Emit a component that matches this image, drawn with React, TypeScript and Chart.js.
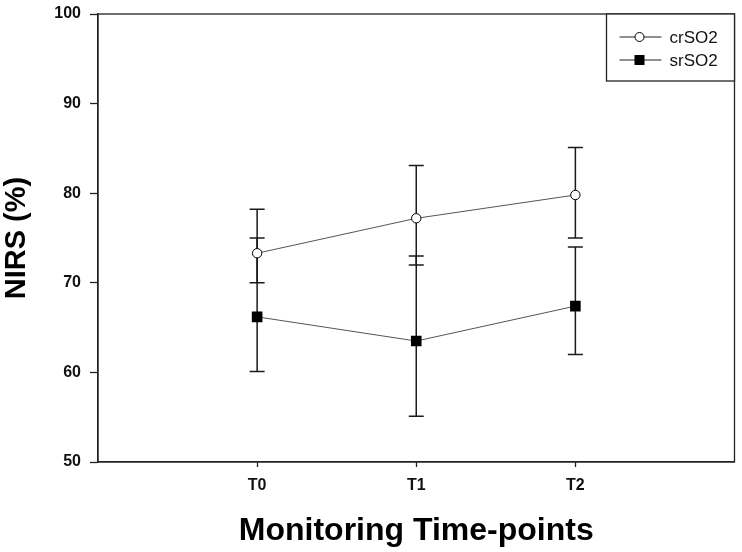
import React, { useEffect, useRef } from "react";
import { Chart, registerables } from "chart.js";

Chart.register(...registerables);

const categories = ["T0", "T1", "T2"];
const crSO2 = [73.3, 77.2, 79.8];
const crUpper = [78.2, 83.1, 85.1];
const crLower = [70.0, 72.0, 75.0];
const srSO2 = [66.2, 63.5, 67.4];
const srUpper = [75.0, 73.0, 74.0];
const srLower = [60.1, 55.1, 62.0];
const yTicks = [50, 60, 70, 80, 90, 100];

const FONT = "'Liberation Sans', Arial, sans-serif";

const errorBarPlugin = {
  id: "errorBars",
  beforeDatasetsDraw(chart: any) {
    const { ctx, scales } = chart;
    const xs = scales.x;
    const ys = scales.y;
    const sets = [
      { up: crUpper, lo: crLower },
      { up: srUpper, lo: srLower },
    ];
    ctx.save();
    ctx.strokeStyle = "#1a1a1a";
    ctx.lineWidth = 1.5;
    sets.forEach((s) => {
      categories.forEach((_, i) => {
        const x = xs.getPixelForValue(i);
        const yU = ys.getPixelForValue(s.up[i]);
        const yL = ys.getPixelForValue(s.lo[i]);
        ctx.beginPath();
        ctx.moveTo(x, yU);
        ctx.lineTo(x, yL);
        ctx.moveTo(x - 7.5, yU);
        ctx.lineTo(x + 7.5, yU);
        ctx.moveTo(x - 7.5, yL);
        ctx.lineTo(x + 7.5, yL);
        ctx.stroke();
      });
    });
    ctx.restore();
  },
};

const framePlugin = {
  id: "frameLegend",
  afterDraw(chart: any) {
    const { ctx, chartArea } = chart;
    ctx.save();
    ctx.strokeStyle = "#222";
    ctx.lineWidth = 1.3;
    ctx.strokeRect(chartArea.left, chartArea.top, chartArea.right - chartArea.left, chartArea.bottom - chartArea.top);
    // legend box
    const bx = chartArea.right - 128;
    const by = chartArea.top;
    const bw = 128;
    const bh = 67;
    ctx.fillStyle = "#fff";
    ctx.fillRect(bx, by, bw, bh);
    ctx.strokeRect(bx, by, bw, bh);
    const rows = chart.data.datasets.map((d: any, i: number) => ({ d, y: by + 23 + i * 23 }));
    rows.forEach(({ d, y }: any) => {
      ctx.strokeStyle = "#222";
      ctx.lineWidth = 1;
      ctx.beginPath();
      ctx.moveTo(bx + 13, y);
      ctx.lineTo(bx + 55, y);
      ctx.stroke();
      const mx = bx + 33;
      ctx.lineWidth = 1;
      if (d.pointStyle === "circle") {
        ctx.beginPath();
        ctx.arc(mx, y, 4.5, 0, Math.PI * 2);
        ctx.fillStyle = "#fff";
        ctx.fill();
        ctx.strokeStyle = "#000";
        ctx.stroke();
      } else {
        ctx.fillStyle = "#000";
        ctx.fillRect(mx - 5, y - 5, 10, 10);
      }
      ctx.fillStyle = "#111";
      ctx.font = `17px ${FONT}`;
      ctx.textBaseline = "middle";
      ctx.textAlign = "left";
      ctx.fillText(d.label, bx + 63, y + 1);
    });
    ctx.restore();
  },
};

export default function App() {
  const ref = useRef<HTMLCanvasElement | null>(null);

  useEffect(() => {
    if (!ref.current) return;
    const chart = new Chart(ref.current, {
      type: "scatter",
      data: {
        datasets: [
          {
            label: "crSO2",
            data: crSO2.map((v, i) => ({ x: i, y: v })),
            showLine: true,
            borderColor: "#555",
            borderWidth: 1,
            pointStyle: "circle",
            pointRadius: 4.7,
            pointBackgroundColor: "#fff",
            pointBorderColor: "#000",
            pointBorderWidth: 1,
          },
          {
            label: "srSO2",
            data: srSO2.map((v, i) => ({ x: i, y: v })),
            showLine: true,
            borderColor: "#555",
            borderWidth: 1,
            pointStyle: "rect",
            pointRadius: 7.5,
            pointBackgroundColor: "#000",
            pointBorderColor: "#000",
            pointBorderWidth: 0,
          },
        ],
      },
      options: {
        animation: false,
        responsive: true,
        maintainAspectRatio: false,
        layout: { padding: { top: 14, right: 7, left: 0, bottom: 0 } },
        plugins: { legend: { display: false }, tooltip: { enabled: false } },
        scales: {
          x: {
            type: "linear",
            min: -1,
            max: 3,
            afterFit: (s: any) => {
              s.height = 90;
              s.paddingLeft = 0;
              s.paddingRight = 0;
            },
            afterBuildTicks: (s: any) => {
              s.ticks = categories.map((_, i) => ({ value: i }));
            },
            grid: {
              drawOnChartArea: false,
              drawTicks: true,
              tickLength: 5,
              tickColor: "#222",
              tickWidth: 1.3,
            },
            border: { display: true, color: "#222", width: 1.3 },
            ticks: {
              padding: 11,
              color: "#111",
              font: { family: FONT, size: 16, weight: "bold", lineHeight: 1 },
              maxRotation: 0,
              callback: (v: any) => categories[v] ?? "",
            },
            title: {
              display: true,
              text: "Monitoring Time-points",
              color: "#000",
              font: { family: FONT, size: 32, weight: "bold", lineHeight: 1 },
              padding: { top: 0, bottom: 5 },
            },
          },
          y: {
            min: 50,
            max: 100,
            afterFit: (s: any) => {
              s.width = 98;
              s.paddingTop = 0;
              s.paddingBottom = 0;
            },
            afterBuildTicks: (s: any) => {
              s.ticks = yTicks.map((v) => ({ value: v }));
            },
            grid: {
              drawOnChartArea: false,
              drawTicks: true,
              tickLength: 8,
              tickColor: "#222",
              tickWidth: 1.3,
            },
            border: { display: true, color: "#222", width: 1.3 },
            ticks: {
              padding: 9,
              color: "#111",
              font: { family: FONT, size: 16, weight: "bold" },
            },
            title: {
              display: true,
              text: "NIRS (%)",
              color: "#000",
              font: { family: FONT, size: 29, weight: "bold", lineHeight: 1 },
              padding: { top: 2, bottom: 0 },
            },
          },
        },
      },
      plugins: [errorBarPlugin, framePlugin],
    } as any);
    return () => chart.destroy();
  }, []);

  return (
    <div style={{ position: "fixed", left: 0, top: 0, width: 742, height: 552, background: "#fff" }}>
      <canvas ref={ref} />
    </div>
  );
}
